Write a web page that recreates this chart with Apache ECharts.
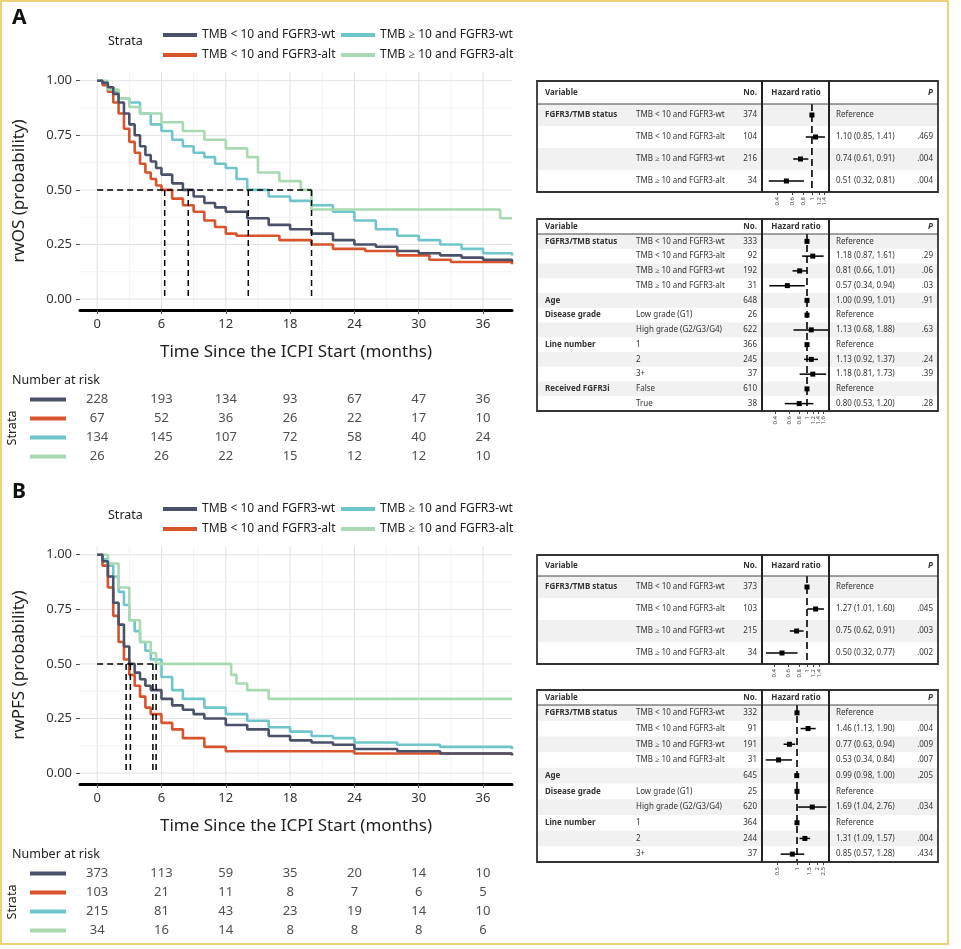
<!DOCTYPE html>
<html>
<head>
<meta charset="utf-8">
<script src="https://cdn.jsdelivr.net/npm/echarts@6/dist/echarts.min.js"></script>
<style>html,body{margin:0;padding:0;background:#fff}#c{width:961px;height:949px}</style>
</head>
<body>
<div id="c"></div>
<script>
const FONT = 'Noto Sans';
const names = ['TMB < 10 and FGFR3-wt', 'TMB < 10 and FGFR3-alt', 'TMB ≥ 10 and FGFR3-wt', 'TMB ≥ 10 and FGFR3-alt'];
const colors = ['#4b5169', '#d8542c', '#6fc6ca', '#a9d9b2'];

// rwOS curves (months, survival)
const osT = [
  [0,0.5,1,1.5,2,2.5,3,3.5,4,4.5,5,5.5,6,7,8,9,10,11,12,14,16,18,20,22,24,26,28,30,32,34,36,38.7],
  [0,0.5,1,1.5,2,2.5,3,3.5,4,4.5,5,5.5,6,7,8,9,10,11,12,13,17,20,22,25,28,31,33,38.7],
  [0,0.5,1,1.5,2,3,4,5,6,7,8,9,10,11,12,13,14,16,18,20,22,24,26,28,30,32,34,36,38.7],
  [0,1,2,3,4,6,8,10,12,14,15,17,19,20,37.6,38.7]
];
const osS = [
  [1,0.99,0.97,0.94,0.9,0.85,0.8,0.75,0.7,0.66,0.63,0.6,0.57,0.53,0.5,0.47,0.44,0.42,0.4,0.37,0.34,0.32,0.3,0.27,0.25,0.24,0.22,0.21,0.2,0.19,0.18,0.17],
  [1,0.98,0.95,0.9,0.85,0.78,0.72,0.67,0.62,0.58,0.55,0.52,0.5,0.46,0.43,0.4,0.36,0.33,0.3,0.29,0.27,0.25,0.23,0.22,0.2,0.18,0.17,0.16],
  [1,0.99,0.97,0.95,0.92,0.9,0.85,0.8,0.77,0.73,0.7,0.67,0.65,0.62,0.6,0.55,0.5,0.47,0.45,0.43,0.4,0.36,0.32,0.29,0.27,0.25,0.23,0.21,0.2],
  [1,0.96,0.92,0.88,0.85,0.81,0.77,0.73,0.69,0.65,0.58,0.54,0.5,0.41,0.37,0.37]
];
const osMed = [8.5, 6.3, 14.1, 20.0];

// rwPFS curves
const pfsT = [
  [0,0.5,1,1.5,2,2.5,3,3.5,4,4.5,5,6,7,8,9,10,12,14,16,18,20,22,24,28,32,38.7],
  [0,0.5,1,1.5,2,2.5,3,3.5,4,4.5,5,6,7,8,10,12,24,38.7],
  [0,0.5,1,1.5,2,2.5,3,3.5,4,4.5,5,6,7,8,10,12,14,16,18,20,22,24,28,32,38.7],
  [0,1,2,3,4,5,5.5,12.5,13,14,16,17,38.7]
];
const pfsS = [
  [1,0.97,0.9,0.78,0.68,0.58,0.5,0.46,0.43,0.4,0.38,0.34,0.31,0.29,0.27,0.25,0.22,0.2,0.17,0.15,0.14,0.13,0.11,0.1,0.09,0.08],
  [1,0.95,0.85,0.72,0.6,0.52,0.45,0.4,0.35,0.3,0.27,0.23,0.2,0.16,0.12,0.1,0.09,0.09],
  [1,0.98,0.95,0.9,0.83,0.77,0.7,0.65,0.6,0.56,0.52,0.44,0.38,0.34,0.3,0.27,0.24,0.21,0.19,0.17,0.16,0.14,0.13,0.12,0.11],
  [1,0.96,0.85,0.7,0.6,0.55,0.5,0.45,0.41,0.38,0.34,0.34,0.34]
];
const pfsMed = [3.1, 2.7, 5.2, 5.5];

const riskTimes = [0,6,12,18,24,30,36];
const riskOS = [[228,193,134,93,67,47,36],[67,52,36,26,22,17,10],[134,145,107,72,58,40,24],[26,26,22,15,12,12,10]];
const riskPFS = [[373,113,59,35,20,14,10],[103,21,11,8,7,6,5],[215,81,43,23,19,14,10],[34,16,14,8,8,8,6]];

// forest tables
const f1Var = ['FGFR3/TMB status','','',''];
const f1Sub = names;
const f1N = [374,104,216,34];
const f1HR = [1,1.10,0.74,0.51], f1Lo = [null,0.85,0.61,0.32], f1Hi = [null,1.41,0.91,0.81];
const f1P = ['','.469','.004','.004'];
const f1Ticks = [0.4,0.6,0.8,1,1.2,1.4];

const f2Var = ['FGFR3/TMB status','','','','Age','Disease grade','','Line number','','','Received FGFR3i',''];
const f2Sub = [...names,'','Low grade (G1)','High grade (G2/G3/G4)','1','2','3+','False','True'];
const f2N = [333,92,192,31,648,26,622,366,245,37,610,38];
const f2HR = [1,1.18,0.81,0.57,1.00,1,1.13,1,1.13,1.18,1,0.80];
const f2Lo = [null,0.87,0.66,0.34,0.99,null,0.68,null,0.92,0.81,null,0.53];
const f2Hi = [null,1.61,1.01,0.94,1.01,null,1.88,null,1.37,1.73,null,1.20];
const f2P = ['','.29','.06','.03','.91','','.63','','.24','.39','','.28'];
const f2Ticks = [0.4,0.6,0.8,1,1.2,1.4,1.6,1.8];

const f3Var = ['FGFR3/TMB status','','',''];
const f3Sub = names;
const f3N = [373,103,215,34];
const f3HR = [1,1.27,0.75,0.50], f3Lo = [null,1.01,0.62,0.32], f3Hi = [null,1.60,0.91,0.77];
const f3P = ['','.045','.003','.002'];
const f3Ticks = [0.4,0.6,0.8,1,1.2,1.4,1.6];

const f4Var = ['FGFR3/TMB status','','','','Age','Disease grade','','Line number','',''];
const f4Sub = [...names,'','Low grade (G1)','High grade (G2/G3/G4)','1','2','3+'];
const f4N = [332,91,191,31,645,25,620,364,244,37];
const f4HR = [1,1.46,0.77,0.53,0.99,1,1.69,1,1.31,0.85];
const f4Lo = [null,1.13,0.63,0.34,0.98,null,1.04,null,1.09,0.57];
const f4Hi = [null,1.90,0.94,0.84,1.00,null,2.76,null,1.57,1.28];
const f4P = ['','.004','.009','.007','.205','','.034','','.004','.434'];
const f4Ticks = [0.5,1,1.5,2,2.5];

const grids = [], xAxes = [], yAxes = [], series = [], graphic = [], legends = [];

function kmPanel(letter, top, yName, T, S, med, risk, legTop) {
  const gi = grids.length;
  grids.push({left: 80, width: 432, top: top, height: 238});
  xAxes.push({gridIndex: gi, type: 'value', min: -1.6, max: 38.7,
    axisLine: {onZero: false, lineStyle: {color: '#000', width: 3}},
    axisTick: {customValues: riskTimes, length: 4, lineStyle: {color: '#555'}},
    axisLabel: {customValues: riskTimes, fontSize: 13, color: '#333', fontFamily: FONT},
    splitLine: {show: false},
    name: 'Time Since the ICPI Start (months)', nameLocation: 'middle', nameGap: 34,
    nameTextStyle: {fontSize: 17, color: '#222', fontFamily: FONT}});
  yAxes.push({gridIndex: gi, type: 'value', min: -0.05, max: 1.04,
    axisLine: {show: false, onZero: false},
    axisTick: {show: true, customValues: [0,0.25,0.5,0.75,1], length: 4, lineStyle: {color: '#555'}},
    axisLabel: {customValues: [0,0.25,0.5,0.75,1], fontSize: 13, color: '#333', fontFamily: FONT, formatter: v => v.toFixed(2)},
    splitLine: {show: false},
    name: yName, nameLocation: 'middle', nameGap: 52,
    nameTextStyle: {fontSize: 17, color: '#222', fontFamily: FONT}});
  // background grid lines
  const gl = [];
  for (let x = 0; x <= 38; x += 3) gl.push([x, -0.05, x, 1.04, (x % 6) ? 1 : 0]);
  for (let y = 0; y <= 1.001; y += 0.125) gl.push([-1.6, y, 38.7, y, (Math.round(y * 8) % 2) ? 1 : 0]);
  series.push({type: 'custom', xAxisIndex: gi, yAxisIndex: gi, silent: true, z: 0, data: gl,
    renderItem: (p, api) => {
      const a = api.coord([api.value(0), api.value(1)]), b = api.coord([api.value(2), api.value(3)]);
      return {type: 'line', shape: {x1: a[0], y1: a[1], x2: b[0], y2: b[1]},
        style: {stroke: api.value(4) ? '#f3f3f3' : '#e2e2e2', lineWidth: 1}};
    }});
  for (let k = 0; k < 4; k++) {
    series.push({type: 'line', name: names[k], xAxisIndex: gi, yAxisIndex: gi, step: 'end',
      showSymbol: false, symbol: 'none', color: colors[k], z: 3 + (k === 0 ? 1 : 0),
      lineStyle: {width: 2.6, color: colors[k]},
      data: T[k].map((t, i) => [t, S[k][i]])});
  }
  const md = [[0, 0.5, Math.max(...med), 0.5]];
  med.forEach(m => md.push([m, 0.5, m, 0]));
  series.push({type: 'custom', xAxisIndex: gi, yAxisIndex: gi, silent: true, z: 6, data: md,
    renderItem: (p, api) => {
      const a = api.coord([api.value(0), api.value(1)]), b = api.coord([api.value(2), api.value(3)]);
      return {type: 'line', shape: {x1: a[0], y1: a[1], x2: b[0], y2: b[1]},
        style: {stroke: '#000', lineWidth: 1.5, lineDash: [6, 4]}};
    }});
  // risk table
  const ri = grids.length;
  const rTop = top + 318;
  grids.push({left: 80, width: 432, top: rTop, height: 76});
  xAxes.push({gridIndex: ri, type: 'value', min: -1.6, max: 38.7, show: false});
  yAxes.push({gridIndex: ri, type: 'category', data: ['0','1','2','3'], inverse: true, show: false});
  const rd = [];
  risk.forEach((row, k) => row.forEach((v, j) => rd.push([riskTimes[j], String(k), v])));
  series.push({type: 'scatter', xAxisIndex: ri, yAxisIndex: ri, symbolSize: 0, data: rd, silent: true,
    label: {show: true, position: 'inside', formatter: p => p.value[2], fontSize: 13, color: '#222', fontFamily: FONT}});
  const rowH = 19;
  risk.forEach((row, k) => graphic.push({type: 'rect', shape: {x: 30, y: rTop + rowH * k + rowH / 2 - 2, width: 36, height: 4}, style: {fill: colors[k]}}));
  graphic.push({type: 'text', x: 12, y: rTop - 16, style: {text: 'Number at risk', fontSize: 12.5, fill: '#222', fontFamily: FONT}});
  graphic.push({type: 'text', x: 12, y: rTop + 38, rotation: Math.PI / 2, style: {text: 'Strata', fontSize: 12.5, fill: '#222', fontFamily: FONT, align: 'center', verticalAlign: 'middle'}});
  graphic.push({type: 'text', x: 12, y: legTop - 16, style: {text: letter, fontSize: 21, fontWeight: 'bold', fill: '#111', fontFamily: FONT}});
  graphic.push({type: 'text', x: 108, y: legTop + 11, style: {text: 'Strata', fontSize: 12.5, fill: '#222', fontFamily: FONT}});
  const legBase = {orient: 'vertical', top: legTop, itemGap: 8, itemWidth: 34, itemHeight: 4, icon: 'rect',
    textStyle: {fontSize: 12, color: '#222', fontFamily: FONT}, selectedMode: false};
  legends.push(Object.assign({}, legBase, {left: 158, data: [names[0], names[1]]}));
  legends.push(Object.assign({}, legBase, {left: 336, data: [names[2], names[3]]}));
}

function forest(top, headH, rowH, V, Sub, N, HR, Lo, Hi, P, ticks, xmin, xmax) {
  const n = N.length;
  const x0 = 537, x1 = 938, bottom = top + headH + n * rowH;
  const fs = 8, col = '#333';
  const txt = (t, x, y, o) => graphic.push({type: 'text', x: x, y: y, z: 5,
    style: Object.assign({text: t, fontSize: fs, fill: col, fontFamily: FONT, verticalAlign: 'middle'}, o || {})});
  for (let i = 0; i < n; i += 2) graphic.push({type: 'rect', z: 0, shape: {x: x0, y: top + headH + i * rowH, width: x1 - x0, height: rowH}, style: {fill: '#f1f1f1'}});
  graphic.push({type: 'line', z: 5, shape: {x1: x0, y1: top + headH, x2: x1, y2: top + headH}, style: {stroke: '#444', lineWidth: 1}});
  graphic.push({type: 'rect', z: 6, shape: {x: x0, y: top, width: x1 - x0, height: bottom - top}, style: {fill: 'none', stroke: '#333', lineWidth: 1.8}});
  [762, 829].forEach(x => graphic.push({type: 'line', z: 6, shape: {x1: x, y1: top, x2: x, y2: bottom}, style: {stroke: '#222', lineWidth: 2}}));
  const hy = top + headH / 2;
  txt('Variable', 545, hy, {fontWeight: 'bold'});
  txt('No.', 757, hy, {fontWeight: 'bold', align: 'right'});
  txt('Hazard ratio', 796, hy, {fontWeight: 'bold', align: 'center'});
  txt('P', 933, hy, {fontWeight: 'bold', fontStyle: 'italic', align: 'right'});
  for (let i = 0; i < n; i++) {
    const y = top + headH + (i + 0.5) * rowH;
    if (V[i]) txt(V[i], 545, y, {fontWeight: 'bold'});
    if (Sub[i]) txt(Sub[i], 636, y);
    txt(String(N[i]), 757, y, {align: 'right'});
    txt(Lo[i] == null ? 'Reference' : HR[i].toFixed(2) + ' (' + Lo[i].toFixed(2) + ', ' + Hi[i].toFixed(2) + ')', 836, y);
    if (P[i]) txt(P[i], 933, y, {align: 'right'});
  }
  const gi = grids.length;
  grids.push({left: 763, width: 66, top: top + headH, height: n * rowH});
  const tv = ticks.map(Math.log);
  xAxes.push({gridIndex: gi, type: 'value', min: xmin, max: xmax, position: 'bottom',
    axisLine: {show: false, onZero: false}, splitLine: {show: false},
    axisTick: {show: true, customValues: tv, length: 3, lineStyle: {color: '#444'}},
    axisLabel: {customValues: tv, rotate: 90, fontSize: 6, margin: 5, color: '#444', fontFamily: FONT,
      formatter: v => String(+Math.exp(v).toFixed(1))}});
  yAxes.push({gridIndex: gi, type: 'value', min: -0.5, max: n - 0.5, inverse: true, show: false, axisLine: {onZero: false}});
  series.push({type: 'line', xAxisIndex: gi, yAxisIndex: gi, silent: true, symbol: 'none', z: 4,
    data: [[0, -0.5], [0, n - 0.5]], lineStyle: {color: '#000', width: 1.6, type: [7, 4]}});
  series.push({type: 'custom', xAxisIndex: gi, yAxisIndex: gi, silent: true, z: 5,
    data: HR.map((h, i) => [Math.log(h), i, Math.log(Lo[i] == null ? h : Lo[i]), Math.log(Hi[i] == null ? h : Hi[i])]),
    renderItem: (p, api) => {
      const c = api.coord([api.value(0), api.value(1)]);
      const a = api.coord([api.value(2), api.value(1)]), b = api.coord([api.value(3), api.value(1)]);
      return {type: 'group', children: [
        {type: 'line', shape: {x1: a[0], y1: c[1], x2: b[0], y2: c[1]}, style: {stroke: '#000', lineWidth: 1.5}},
        {type: 'rect', shape: {x: c[0] - 2.5, y: c[1] - 2.5, width: 5, height: 5}, style: {fill: '#000'}}
      ]};
    }});
}

kmPanel('A', 72, 'rwOS (probability)', osT, osS, osMed, riskOS, 24);
kmPanel('B', 546, 'rwPFS (probability)', pfsT, pfsS, pfsMed, riskPFS, 498);
forest(81, 23, 22, f1Var, f1Sub, f1N, f1HR, f1Lo, f1Hi, f1P, f1Ticks, -1.29, 0.45);
forest(219, 15, 14.75, f2Var, f2Sub, f2N, f2HR, f2Lo, f2Hi, f2P, f2Ticks, -1.26, 0.63);
forest(555, 21, 22, f3Var, f3Sub, f3N, f3HR, f3Lo, f3Hi, f3P, f3Ticks, -1.22, 0.61);
forest(690, 15, 15.7, f4Var, f4Sub, f4N, f4HR, f4Lo, f4Hi, f4P, f4Ticks, -1.17, 1.1);

graphic.push({type: 'rect', z: 10, shape: {x: 1, y: 1, width: 947, height: 943}, style: {fill: 'none', stroke: '#e9c34f', lineWidth: 1.5}});

const chart = echarts.init(document.getElementById('c'), null, {renderer: 'canvas'});
chart.setOption({
  animation: false,
  backgroundColor: '#fff',
  textStyle: {fontFamily: FONT},
  grid: grids, xAxis: xAxes, yAxis: yAxes, series: series,
  legend: legends, graphic: graphic
});
</script>
</body>
</html>
